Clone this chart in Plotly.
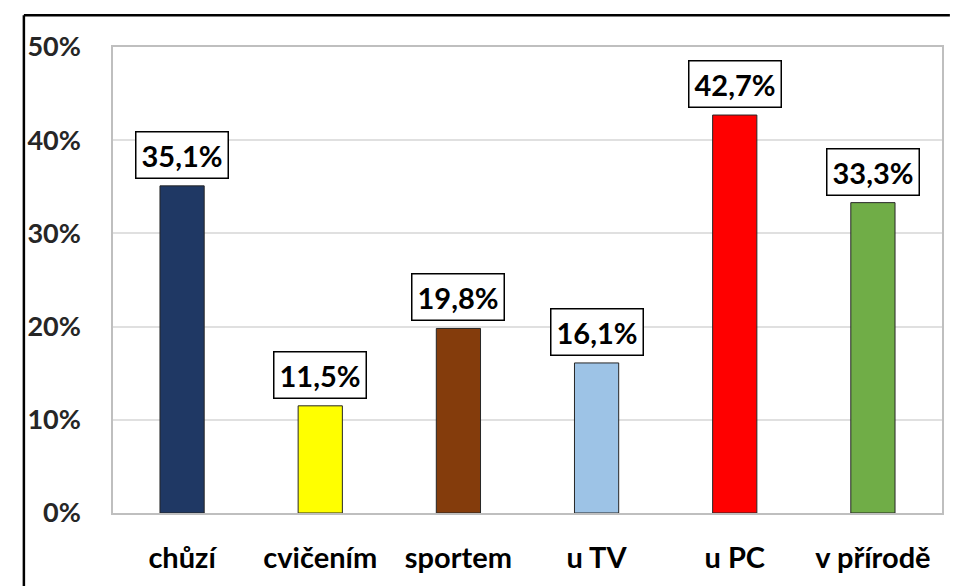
import plotly.graph_objects as go

# Volnočasové aktivity – podíl respondentů (%)
categories = ["chůzí", "cvičením", "sportem", "u TV", "u PC", "v přírodě"]
values = [35.1, 11.5, 19.8, 16.1, 42.7, 33.3]
colors = ["#1F3864", "#FFFF00", "#843C0C", "#9DC3E6", "#FF0000", "#70AD47"]
y_ticks = [0, 10, 20, 30, 40, 50]

FONT = "Lato, 'Open Sans', sans-serif"

fig = go.Figure(
    go.Bar(
        x=categories,
        y=values,
        marker=dict(color=colors, line=dict(color="#262626", width=1)),
        hoverinfo="skip",
    )
)

# value labels in framed boxes above each bar
for cat, val in zip(categories, values):
    fig.add_annotation(
        x=cat,
        y=val,
        text=f"{val:.1f}%".replace(".", ","),
        showarrow=False,
        yanchor="bottom",
        yshift=7,
        font=dict(family=FONT, size=29, color="black", weight="bold"),
        bgcolor="white",
        bordercolor="black",
        borderwidth=1.5,
        borderpad=5,
    )

# frame around the chart (top and left edges)
fig.add_shape(type="line", xref="paper", yref="paper",
              x0=-0.1075, x1=1.0095, y0=1.068, y1=1.068,
              line=dict(color="black", width=2.5))
fig.add_shape(type="line", xref="paper", yref="paper",
              x0=-0.1075, x1=-0.1075, y0=1.068, y1=-0.2,
              line=dict(color="black", width=2.5))

fig.update_layout(
    width=958,
    height=586,
    margin=dict(l=113, r=16, t=47, b=70),
    paper_bgcolor="white",
    plot_bgcolor="white",
    showlegend=False,
    bargap=0.68,
    font=dict(family=FONT, color="#262626"),
)
fig.update_xaxes(
    showline=True, linecolor="#BFBFBF", linewidth=1.5, mirror=True,
    showgrid=False,
    tickfont=dict(family=FONT, size=29, color="black", weight="bold"),
    ticklabelstandoff=18,
)
fig.update_yaxes(
    range=[0, 50],
    tickvals=y_ticks,
    ticktext=[f"{t}%" for t in y_ticks],
    showline=True, linecolor="#BFBFBF", linewidth=1.5, mirror=True,
    showgrid=True, gridcolor="#E0E0E0", gridwidth=1.5,
    zeroline=False,
    tickfont=dict(family=FONT, size=27, color="#262626", weight="bold"),
    ticklabelstandoff=25,
)

fig.write_html("out.html")
